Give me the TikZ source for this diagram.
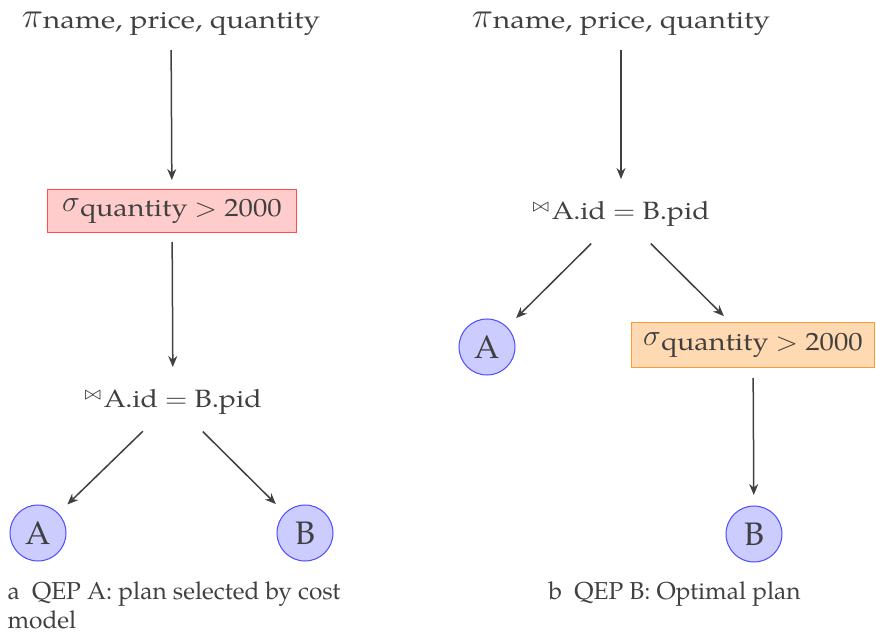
\documentclass[tikz,border=0pt]{standalone}
\usepackage{fontspec}
\setmainfont{TeX Gyre Pagella}
\usepackage{graphicx}
\usetikzlibrary{arrows.meta}
\definecolor{ink}{HTML}{404040}
\newcommand{\pilbl}{\raisebox{0.6pt}{\fontsize{14}{14}\selectfont$\pi$}\scalebox{1.18}[1]{name, price, quantity}}
\newcommand{\siglbl}{\raisebox{2pt}{\fontsize{13}{13}\selectfont$\sigma$}\scalebox{1.15}[1]{quantity $>$ 2000}}
\newcommand{\joinlbl}{\raisebox{3.4pt}{\fontsize{7}{8}\selectfont$\bowtie$}\kern1pt\scalebox{1.14}[1]{A.id $=$ B.pid}}
\tikzset{
  x=0.4pt, y=-0.4pt,
  every node/.style={text=ink, font=\fontsize{10}{12}\selectfont, inner sep=0pt},
  leaf/.style={circle, draw=blue!70, fill=blue!20, minimum size=22.4pt, font=\fontsize{13}{15}\selectfont},
  redbox/.style={draw=red!70, fill=red!20, minimum width=99.2pt, minimum height=16.8pt},
  orangebox/.style={draw=orange!80, fill=orange!30, minimum width=97.2pt, minimum height=17.6pt},
  arr/.style={draw=ink, line width=0.6pt, -{Stealth[length=4.4pt,width=3.6pt]}},
  captext/.style={text=ink, font=\fontsize{9.8}{11.6}\selectfont, anchor=north west, align=left}
}
\begin{document}
\begin{tikzpicture}
\useasboundingbox (0,0) rectangle (876,633);
% left plan
\node (piL) at (171,24) {\pilbl};
\node[redbox] (sigL) at (172,211) {\siglbl};
\node (joinL) at (173,402) {\joinlbl};
\node[leaf] (AL) at (38,533) {A};
\node[leaf] (BL) at (305,533) {B};
\draw[arr, shorten <=10.4pt, shorten >=12.4pt] (piL.center) -- (sigL.center);
\draw[arr, shorten <=12.4pt, shorten >=14pt] (sigL.center) -- (joinL.center);
\draw[arr, shorten <=16.8pt, shorten >=16.4pt] (joinL.center) -- (AL.center);
\draw[arr, shorten <=16.8pt, shorten >=16.4pt] (joinL.center) -- (BL.center);
\node[captext] (capL) at (7,581) {a\enspace QEP A: plan selected by cost\\model};
% right plan
\node (piR) at (621,24) {\pilbl};
\node (joinR) at (621,214) {\joinlbl};
\node[leaf] (AR) at (487,347) {A};
\node[orangebox] (sigR) at (753,345) {\siglbl};
\node[leaf] (BR) at (754,534) {B};
\draw[arr, shorten <=10.4pt, shorten >=14pt] (piR.center) -- (joinR.center);
\draw[arr, shorten <=16.8pt, shorten >=16.4pt] (joinR.center) -- (AR.center);
\draw[arr, shorten <=16.8pt, shorten >=16.4pt] (joinR.center) -- (sigR.center);
\draw[arr, shorten <=13.2pt, shorten >=15.6pt] (sigR.center) -- (BR.center);
\node[captext] (capR) at (548,581) {b\enspace QEP B: Optimal plan};
\end{tikzpicture}
\end{document}
